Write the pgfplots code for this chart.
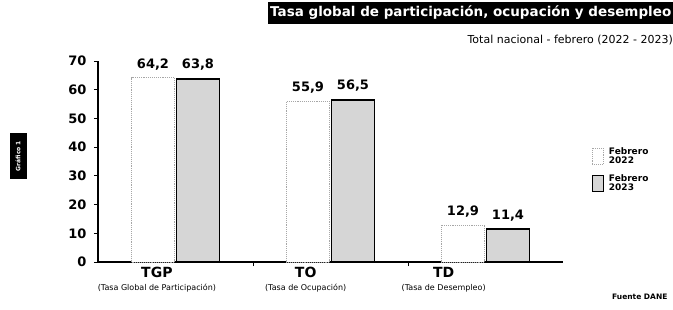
\documentclass[border=0pt]{standalone}
\usepackage{pgfplots}
\pgfplotsset{compat=1.18}
\usepackage{fontspec}
\setmainfont{DejaVu Sans}
\newcommand{\fs}[1]{\fontsize{#1pt}{#1pt}\selectfont}
\definecolor{barfill}{gray}{0.84}
\begin{document}
\begin{tikzpicture}
\useasboundingbox (0pt,0pt) rectangle (673pt,309pt);
\node[fill=black, text=white, anchor=west, inner sep=2pt, minimum height=22pt, font=\fs{13.5}\bfseries] at (268pt,296pt) {Tasa global de participación, ocupación y desempleo};
\node[anchor=east, font=\fs{11}, inner sep=0pt] at (673pt,269pt) {Total nacional - febrero (2022 - 2023)};
\node[fill=black, text=white, rotate=90, font=\fs{6}\bfseries, minimum width=46pt, minimum height=17pt, inner sep=1pt] at (18pt,153pt) {Gráfico 1};
\node[anchor=west, font=\fs{7.5}\bfseries, inner sep=0pt] at (612pt,12pt) {Fuente DANE};
\begin{axis}[
  at={(98pt,47pt)}, anchor=south west,
  scale only axis, width=465pt, height=201pt,
  xmin=-0.5, xmax=2.5, ymin=0, ymax=70,
  axis x line*=bottom, axis y line*=left,
  axis line style={line width=1.4pt},
  ybar=2pt, bar width=43pt,
  ytick={0,10,...,70},
  tick align=outside, major tick length=4pt,
  every tick/.style={black, line width=1pt},
  /pgf/number format/assume math mode=true,
  yticklabel style={font=\fs{13}\bfseries, xshift=-4pt},
  xtick={0.5,1.5}, xticklabels={},
  extra x ticks={-0.12,0.84,1.73},
  extra x tick labels={{{\fs{14}\bfseries TGP}\\[1pt]{\fs{8}(Tasa Global de Participación)}},{{\fs{14}\bfseries TO}\\[1pt]{\fs{8}(Tasa de Ocupación)}},{{\fs{14}\bfseries TD}\\[1pt]{\fs{8}(Tasa de Desempleo)}}},
  extra x tick style={major tick length=0pt, xticklabel style={align=center, yshift=-2pt}},
  nodes near coords,
  every node near coord/.append style={font=\fs{13}\bfseries, black, yshift=4pt, /pgf/number format/.cd, use comma, fixed, fixed zerofill, precision=1},
  legend style={at={(1.055,0.585)}, anchor=north west, draw=none, fill=none, font=\fs{9}\bfseries, nodes={align=left, inner sep=1pt}, row sep=8pt, column sep=4pt},
  legend cell align=left,
  clip=false,
]
\addplot[fill=white, draw=gray!70, densely dotted, line width=0.9pt,
  legend image code/.code={\draw[fill=white, draw=gray!70, densely dotted, line width=0.9pt] (0pt,-8pt) rectangle (11pt,8pt);}]
  coordinates {(0,64.2) (1,55.9) (2,12.9)};
\addlegendentry{Febrero\\2022}
\addplot[fill=barfill, draw=black, line width=1.6pt,
  legend image code/.code={\draw[fill=barfill, draw=black, line width=1.2pt] (0pt,-8pt) rectangle (11pt,8pt);}]
  coordinates {(0,63.8) (1,56.5) (2,11.4)};
\addlegendentry{Febrero\\2023}
\end{axis}
\end{tikzpicture}
\end{document}
